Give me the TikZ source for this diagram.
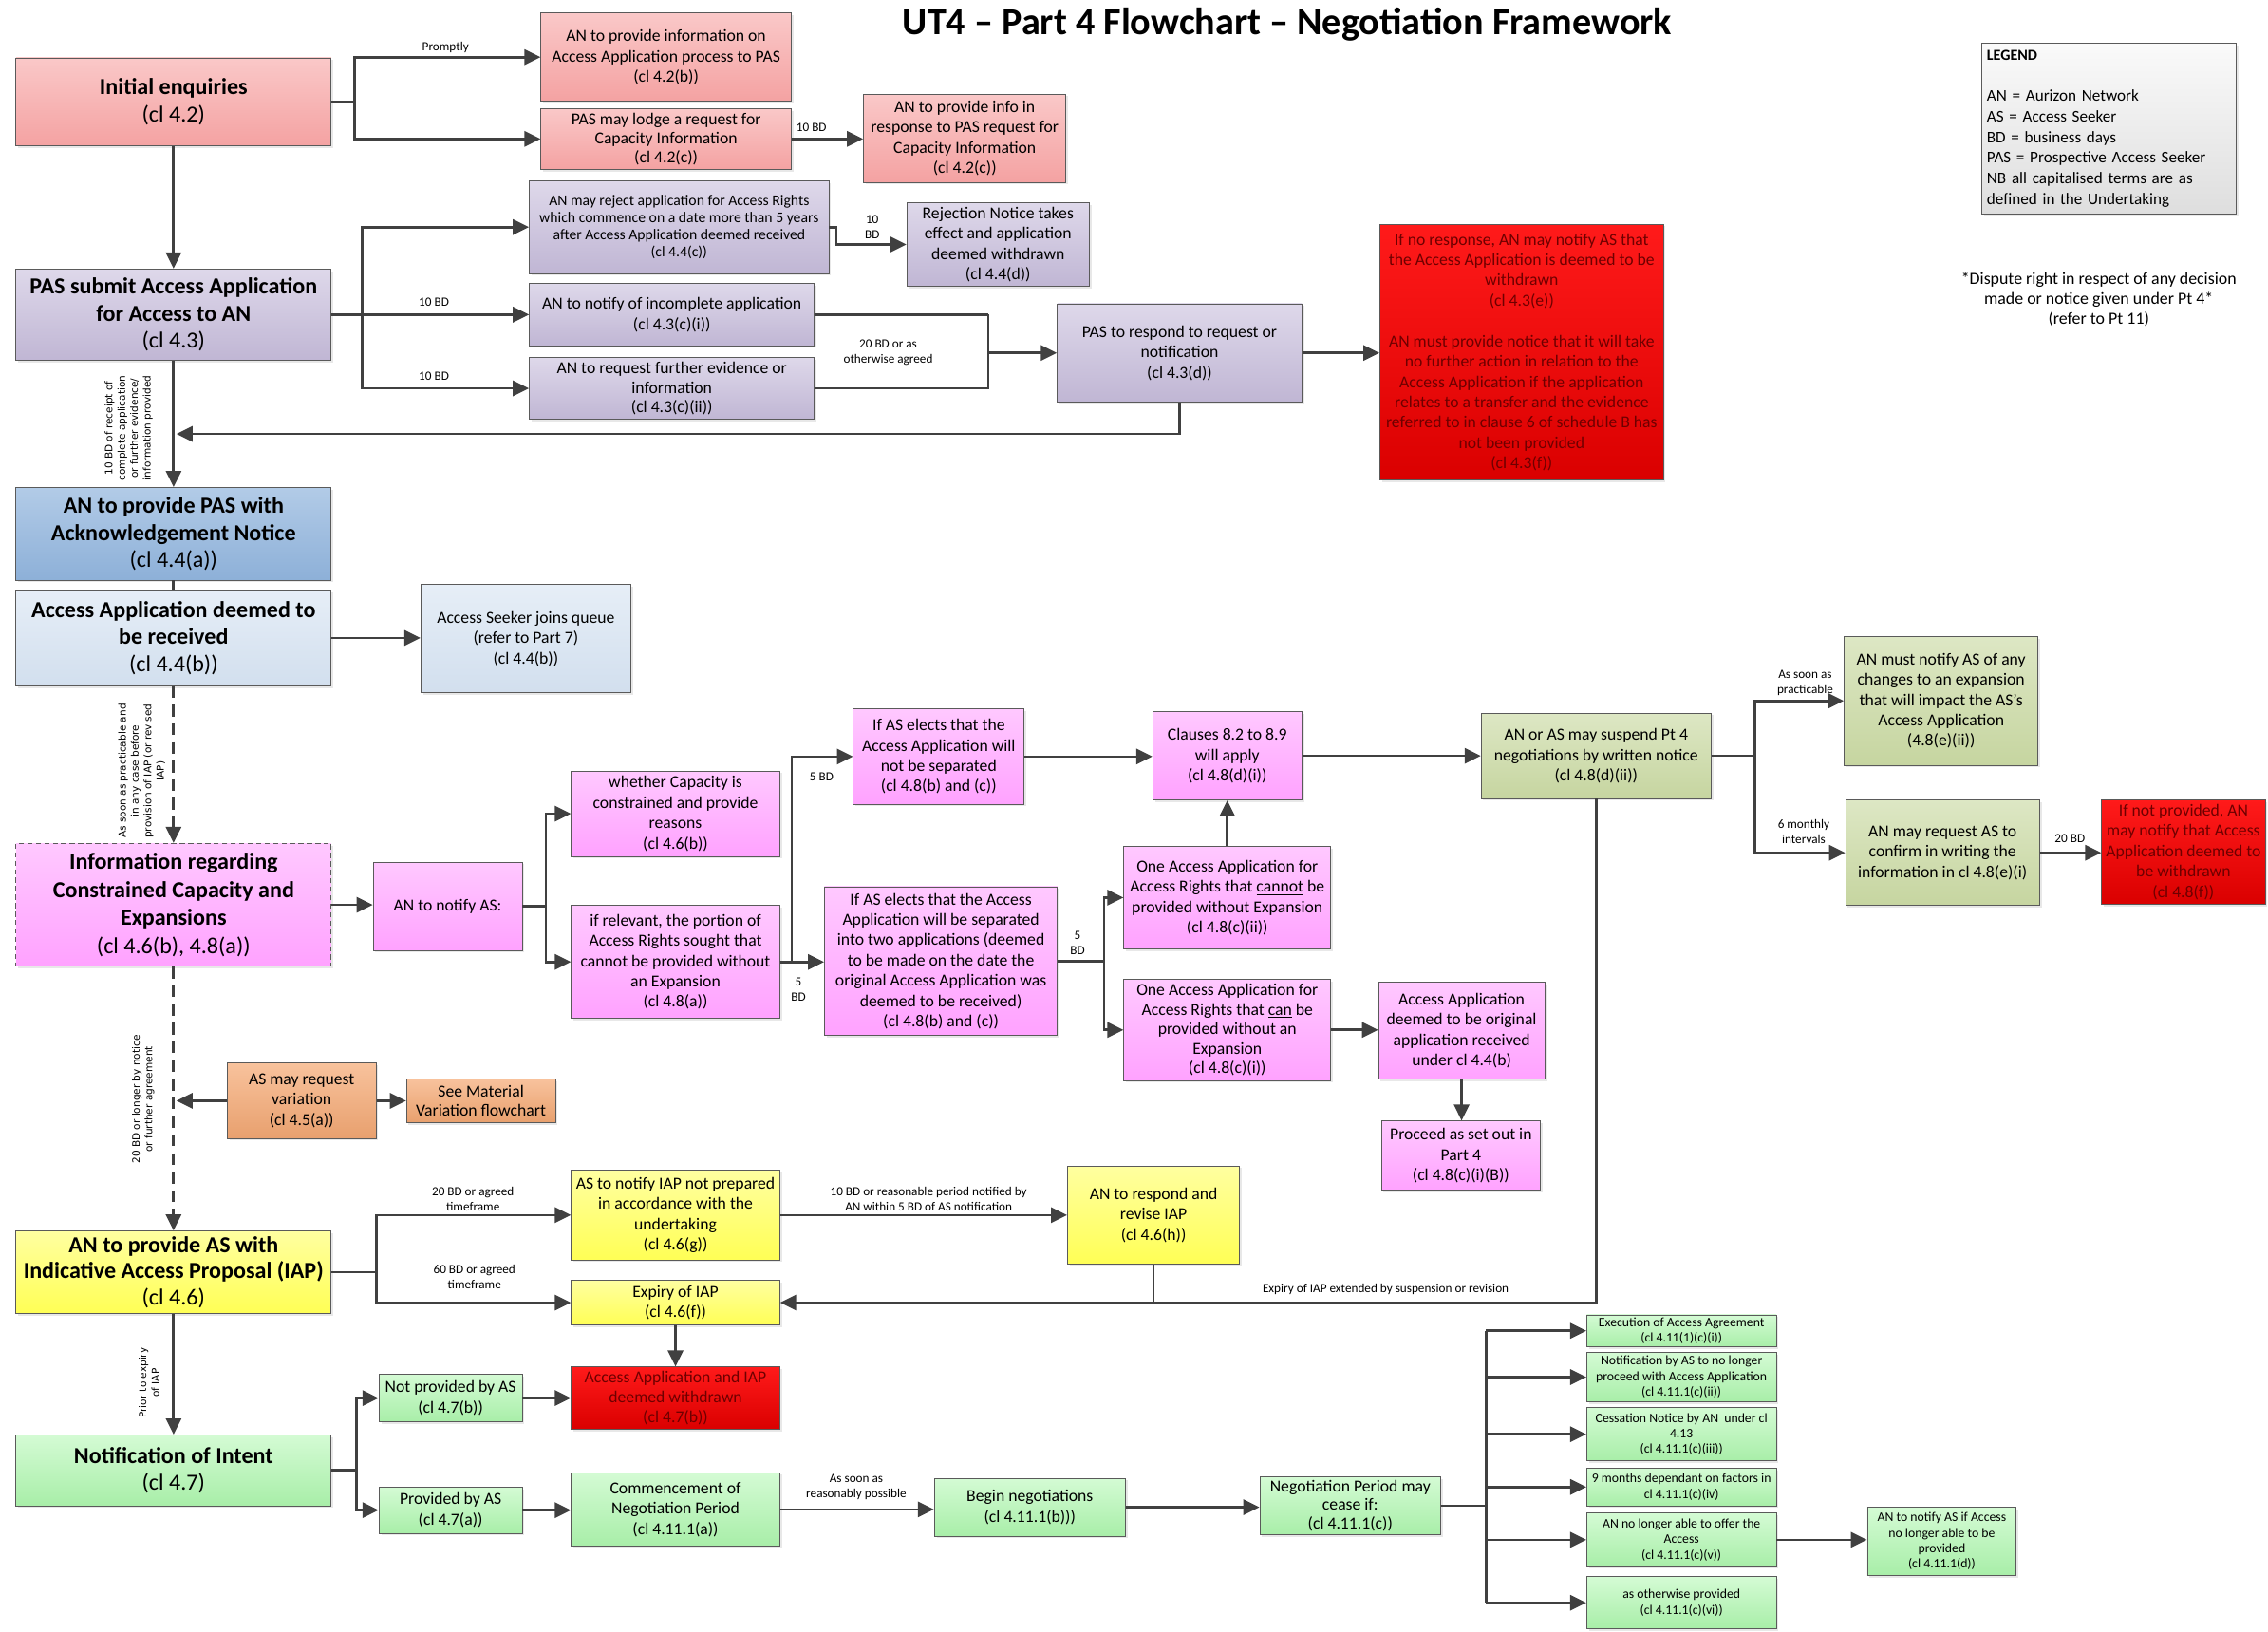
\documentclass[tikz,border=0pt]{standalone}
\usepackage{fontspec}
\setmainfont{Carlito}
\newfontfamily\rotfont{DejaVu Sans}
\usepackage{tikz}
\usetikzlibrary{arrows.meta}
\usetikzlibrary{calc}
\usetikzlibrary{shadows}

\definecolor{boxline}{HTML}{5A5A5A}
\definecolor{arrowgray}{HTML}{404040}
\definecolor{pinkT}{HTML}{FAC8C8}
\definecolor{pinkB}{HTML}{F4A2A2}
\definecolor{lavT}{HTML}{DED8EA}
\definecolor{lavB}{HTML}{C0B6D4}
\definecolor{blueT}{HTML}{B2CBE7}
\definecolor{blueB}{HTML}{8DB0D8}
\definecolor{lblueT}{HTML}{E6EEF7}
\definecolor{lblueB}{HTML}{D2DFEE}
\definecolor{magT}{HTML}{FFC8FF}
\definecolor{magB}{HTML}{FFA2FF}
\definecolor{oliveT}{HTML}{DDE7C4}
\definecolor{oliveB}{HTML}{C6D5A0}
\definecolor{orangeT}{HTML}{F8C29C}
\definecolor{orangeB}{HTML}{E8A06E}
\definecolor{yelT}{HTML}{FFFFA0}
\definecolor{yelB}{HTML}{FFFF55}
\definecolor{greenT}{HTML}{D4FBD4}
\definecolor{greenB}{HTML}{A8EEA8}
\definecolor{redT}{HTML}{FF1A1A}
\definecolor{redB}{HTML}{DA0000}
\definecolor{redtxt}{HTML}{6E0000}
\definecolor{legT}{HTML}{FAFAFA}
\definecolor{legB}{HTML}{DEDEDE}

\newcommand{\fsz}[2]{\fontsize{#1}{#2}\selectfont}

\begin{document}
\begin{tikzpicture}[
  x=0.3mm, y=-0.3mm,
  > = {Triangle[length=9.5pt, width=9pt]},
  flowbox/.style = {draw=boxline, line width=0.5pt, align=center, inner sep=1pt, font=\fsz{9.9}{12},
    drop shadow={shadow xshift=1.3pt, shadow yshift=-1.3pt, fill=black!18, draw=none}},
  sz/.style 2 args = {minimum width=#1*0.8536pt, minimum height=#2*0.8536pt},
  big/.style = {font=\bfseries\fsz{13.5}{16}},
  tinybox/.style = {font=\fsz{7.7}{9.2}, inner sep=0.5pt},
  pinkb/.style = {top color=pinkT, bottom color=pinkB},
  lavb/.style = {top color=lavT, bottom color=lavB},
  blueb/.style = {top color=blueT, bottom color=blueB},
  lblueb/.style = {top color=lblueT, bottom color=lblueB},
  magb/.style = {top color=magT, bottom color=magB},
  oliveb/.style = {top color=oliveT, bottom color=oliveB},
  orangeb/.style = {top color=orangeT, bottom color=orangeB},
  yellowb/.style = {top color=yelT, bottom color=yelB},
  greenb/.style = {top color=greenT, bottom color=greenB},
  redb/.style = {top color=redT, bottom color=redB, text=redtxt},
  legendb/.style = {top color=legT, bottom color=legB},
  arr/.style = {->, draw=arrowgray, line width=1.5pt},
  conn/.style = {draw=arrowgray, line width=1.5pt},
  dashy/.style = {dash pattern=on 7pt off 4pt},
  lbl/.style = {font=\fsz{7.4}{9}, align=center, inner sep=0pt},
  vlbl/.style = {font=\rotfont\fsz{5.9}{7.5}, align=center, inner sep=0pt, rotate=90}
  ]
  \useasboundingbox (0,0) rectangle (1568,1128);

  % title, legend
  \node[font=\bfseries\fsz{22.5}{26}] (title) at (890,17) {UT4 – Part 4 Flowchart – Negotiation Framework};
  \node[flowbox, legendb, sz={176}{118}, align=left, text width=144pt, inner sep=3pt, font=\fsz{9.6}{12.2}] (legend) at (1458,89)
    {{\bfseries\fsz{9}{12}LEGEND}\\[12pt]AN = Aurizon Network\\AS = Access Seeker\\BD = business days\\PAS = Prospective Access Seeker\\NB all capitalised terms are as\\defined in the Undertaking};
  \node[font=\fsz{10}{12}, align=center] (dispute) at (1451,207) {*Dispute right in respect of any decision\\made or notice given under Pt 4*\\(refer to Pt 11)};

  % enquiries
  \node[flowbox, pinkb, big, sz={218}{61}] (init) at (120,70.5) {Initial enquiries\\\mdseries (cl 4.2)};
  \node[flowbox, pinkb, sz={173}{61}] (info) at (460.5,39.5) {AN to provide information on\\Access Application process to PAS\\(cl 4.2(b))};
  \node[flowbox, pinkb, sz={173}{42}, font=\fsz{9.9}{11.3}] (lodge) at (460.5,96) {PAS may lodge a request for\\Capacity Information\\(cl 4.2(c))};
  \node[flowbox, pinkb, sz={140}{61}] (resp) at (667,95.5) {AN to provide info in\\response to PAS request for\\Capacity Information\\(cl 4.2(c))};

  % access application
  \node[flowbox, lavb, big, sz={218}{63}] (pas) at (120,217.5) {PAS submit Access Application\\for Access to AN\\\mdseries (cl 4.3)};
  \node[flowbox, lavb, sz={207}{64}, font=\fsz{8.8}{10.2}] (reject) at (469.5,157) {AN may reject application for Access Rights\\which commence on a date more than 5 years\\after Access Application deemed received\\(cl 4.4(c))};
  \node[flowbox, lavb, sz={126}{58}] (rejnote) at (690,169) {Rejection Notice takes\\effect and application\\deemed withdrawn\\(cl 4.4(d))};
  \node[flowbox, lavb, sz={197}{43}] (incomplete) at (464.5,217.5) {AN to notify of incomplete application\\(cl 4.3(c)(i))};
  \node[flowbox, lavb, sz={197}{43}, font=\fsz{9.9}{11.5}] (further) at (464.5,268.5) {AN to request further evidence or\\information\\(cl 4.3(c)(ii))};
  \node[flowbox, lavb, sz={169}{68}] (respond) at (815.5,244) {PAS to respond to request or\\notification\\(cl 4.3(d))};
  \node[flowbox, redb, sz={196}{177}, font=\fsz{9.9}{12}] (red1) at (1052,243.5) {If no response, AN may notify AS that\\the Access Application is deemed to be\\withdrawn\\(cl 4.3(e))\\[12pt]AN must provide notice that it will take\\no further action in relation to the\\Access Application if the application\\relates to a transfer and the evidence\\referred to in clause 6 of schedule B has\\not been provided\\(cl 4.3(f))};
  \node[flowbox, blueb, big, sz={218}{64}] (ack) at (120,369) {AN to provide PAS with\\Acknowledgement Notice\\\mdseries (cl 4.4(a))};
  \node[flowbox, lblueb, big, sz={218}{66}] (deemed) at (120,441) {Access Application deemed to\\be received\\\mdseries (cl 4.4(b))};
  \node[flowbox, lblueb, sz={145}{75}] (queue) at (363.5,441.5) {Access Seeker joins queue\\(refer to Part 7)\\(cl 4.4(b))};

  % constrained capacity
  \node[flowbox, magb, densely dashed, sz={218}{85}, font=\bfseries\fsz{13.5}{16.5}] (infocap) at (120,625.5) {Information regarding\\Constrained Capacity and\\Expansions\\\mdseries (cl 4.6(b), 4.8(a))};
  \node[flowbox, magb, sz={103}{61}] (notify) at (309.5,626.5) {AN to notify AS:};
  \node[flowbox, magb, sz={144}{59}] (whether) at (467,562.5) {whether Capacity is\\constrained and provide\\reasons\\(cl 4.6(b))};
  \node[flowbox, magb, sz={144}{78}] (relevant) at (467,665) {if relevant, the portion of\\Access Rights sought that\\cannot be provided without\\an Expansion\\(cl 4.8(a))};
  \node[flowbox, magb, sz={118}{66}] (notsep) at (649,523) {If AS elects that the\\Access Application will\\not be separated\\(cl 4.8(b) and (c))};
  \node[flowbox, magb, sz={161}{103}] (sep) at (650.5,664.5) {If AS elects that the Access\\Application will be separated\\into two applications (deemed\\to be made on the date the\\original Access Application was\\deemed to be received)\\(cl 4.8(b) and (c))};
  \node[flowbox, magb, sz={103}{61}] (clauses) at (848.5,522.5) {Clauses 8.2 to 8.9\\will apply\\(cl 4.8(d)(i))};
  \node[flowbox, magb, sz={143}{71}] (cannot) at (848.5,620.5) {One Access Application for\\Access Rights that \underline{cannot} be\\provided without Expansion\\(cl 4.8(c)(ii))};
  \node[flowbox, magb, sz={143}{70}, font=\fsz{9.9}{11.5}] (can) at (848.5,712) {One Access Application for\\Access Rights that \underline{can} be\\provided without an\\Expansion\\(cl 4.8(c)(i))};
  \node[flowbox, magb, sz={115}{67}] (original) at (1010.5,712.5) {Access Application\\deemed to be original\\application received\\under cl 4.4(b)};
  \node[flowbox, magb, sz={110}{48}] (proceed) at (1010,799) {Proceed as set out in\\Part 4\\(cl 4.8(c)(i)(B))};

  % suspension
  \node[flowbox, oliveb, sz={159}{59}] (suspend) at (1103.5,522.5) {AN or AS may suspend Pt 4\\negotiations by written notice\\(cl 4.8(d)(ii))};
  \node[flowbox, oliveb, sz={134}{89}] (changes) at (1342,484.5) {AN must notify AS of any\\changes to an expansion\\that will impact the AS’s\\Access Application\\(4.8(e)(ii))};
  \node[flowbox, oliveb, sz={134}{73}] (confirm) at (1343,589.5) {AN may request AS to\\confirm in writing the\\information in cl 4.8(e)(i)};
  \node[flowbox, redb, sz={113}{72}] (red2) at (1509.5,589) {If not provided, AN\\may notify that Access\\Application deemed to\\be withdrawn\\(cl 4.8(f))};

  % variation, IAP
  \node[flowbox, orangeb, sz={103}{52}] (variation) at (208.5,761) {AS may request\\variation\\(cl 4.5(a))};
  \node[flowbox, orangeb, sz={103}{30}, font=\fsz{9.9}{11}] (material) at (332.5,761) {See Material\\Variation flowchart};
  \node[flowbox, yellowb, sz={218}{57}, font=\bfseries\fsz{13.5}{15.5}] (iap) at (120,879.5) {AN to provide AS with\\Indicative Access Proposal (IAP)\\\mdseries (cl 4.6)};
  \node[flowbox, yellowb, sz={144}{62}] (notprep) at (467,840) {AS to notify IAP not prepared\\in accordance with the\\undertaking\\(cl 4.6(g))};
  \node[flowbox, yellowb, sz={119}{68}] (revise) at (797.5,840) {AN to respond and\\revise IAP\\(cl 4.6(h))};
  \node[flowbox, yellowb, sz={144}{31}] (expiry) at (467,900.5) {Expiry of IAP\\(cl 4.6(f))};
  \node[flowbox, redb, sz={144}{43}, font=\fsz{9.9}{11.5}] (withdrawn) at (467,966.5) {Access Application and IAP\\deemed withdrawn\\(cl 4.7(b))};

  % negotiation
  \node[flowbox, greenb, big, sz={218}{49}] (intent) at (120,1016.5) {Notification of Intent\\\mdseries (cl 4.7)};
  \node[flowbox, greenb, sz={99}{33}] (notprov) at (311.5,966.5) {Not provided by AS\\(cl 4.7(b))};
  \node[flowbox, greenb, sz={99}{32}] (prov) at (311.5,1044) {Provided by AS\\(cl 4.7(a))};
  \node[flowbox, greenb, sz={144}{51}] (commence) at (467,1043.5) {Commencement of\\Negotiation Period\\(cl 4.11.1(a))};
  \node[flowbox, greenb, sz={132}{40}] (begin) at (712,1042) {Begin negotiations\\(cl 4.11.1(b)))};
  \node[flowbox, greenb, sz={125}{40}, font=\fsz{9.9}{11}] (cease) at (933.5,1041) {Negotiation Period may\\cease if:\\(cl 4.11.1(c))};
  \node[flowbox, greenb, tinybox, sz={131}{22}] (exec) at (1162.5,920) {Execution of Access Agreement\\(cl 4.11(1)(c)(i))};
  \node[flowbox, greenb, tinybox, sz={131}{34}] (notifas) at (1162.5,952) {Notification by AS to no longer\\proceed with Access Application\\(cl 4.11.1(c)(ii))};
  \node[flowbox, greenb, tinybox, sz={131}{37}] (cessation) at (1162.5,991.5) {Cessation Notice by AN\ \ under cl\\4.13\\(cl 4.11.1(c)(iii))};
  \node[flowbox, greenb, tinybox, sz={131}{26}] (nine) at (1162.5,1028) {9 months dependant on factors in\\cl 4.11.1(c)(iv)};
  \node[flowbox, greenb, tinybox, sz={131}{37}] (unable) at (1162.5,1064.5) {AN no longer able to offer the\\Access\\(cl 4.11.1(c)(v))};
  \node[flowbox, greenb, tinybox, sz={131}{36}] (otherwise) at (1162.5,1108) {as otherwise provided\\(cl 4.11.1(c)(vi))};
  \node[flowbox, greenb, tinybox, sz={103}{47}] (notifyaccess) at (1342.5,1065.5) {AN to notify AS if Access\\no longer able to be\\provided\\(cl 4.11.1(d))};

  % free ends
  \coordinate (backIn) at (122,300);
  \coordinate (varIn) at (122,761);

  % connectors
  \draw[arr] (init.east) -- ++(16,0) coordinate (jInit) |- (info.west);
  \draw[arr] (jInit) |- (lodge.west);
  \draw[arr] (lodge.east) -- (lodge.east -| resp.west);
  \draw[arr] (init) -- (pas);
  \draw[arr] (pas.east) -- ++(21,0) coordinate (jPas) |- (reject.west);
  \draw[arr] (pas.east) -- (incomplete.west);
  \draw[arr] (jPas) |- (further.west);
  \draw[arr] (reject.east) -- ++(5,0) |- (rejnote.west);
  \draw[conn] (incomplete.east) -- ++(120,0) coordinate (jResp);
  \draw[conn] (further.east) -| (jResp);
  \draw[arr] (jResp |- respond.west) -- (respond.west);
  \draw[arr] (respond.east) -- (respond.east -| red1.west);
  \draw[arr] (respond.south) |- (backIn);
  \draw[arr] (pas) -- (ack);
  \draw[conn] (ack) -- (deemed);
  \draw[arr] (deemed.east) -- (deemed.east -| queue.west);
  \draw[arr, dashy] (deemed) -- (infocap);
  \draw[arr] (infocap.east) -- (infocap.east -| notify.west);
  \draw[arr] (notify.east) -- ++(16,0) coordinate (jNotify) |- (whether.west);
  \draw[arr] (jNotify) |- (relevant.west);
  \draw[arr] (relevant.east) -- (relevant.east -| sep.west);
  \draw[arr] (relevant.east) -- ++(8,0) |- (notsep.west);
  \draw[arr] (notsep.east) -- (notsep.east -| clauses.west);
  \draw[arr] (sep.east) -- ++(32,0) coordinate (jSep) |- (cannot.west);
  \draw[arr] (jSep) |- (can.west);
  \draw[arr] (cannot) -- (clauses);
  \draw[arr] (clauses.east) -- (clauses.east -| suspend.west);
  \draw[arr] (can.east) -- (can.east -| original.west);
  \draw[arr] (original.south) -- (original.south |- proceed.north);
  \draw[arr] (suspend.east) -- ++(30,0) coordinate (jSusp) |- (changes.west);
  \draw[arr] (jSusp) |- (confirm.west);
  \draw[arr] (confirm.east) -- (confirm.east -| red2.west);
  \draw[arr] (suspend.south) |- (expiry.east);
  \draw[conn] (revise.south) -- (revise.south |- expiry.east);
  \draw[arr, dashy] (infocap) -- (iap);
  \draw[arr] (variation.west) -- (varIn);
  \draw[arr] (variation.east) -- (variation.east -| material.west);
  \draw[arr] (iap.east) -- ++(31,0) coordinate (jIap) |- (notprep.west);
  \draw[arr] (jIap) |- (expiry.west);
  \draw[arr] (notprep.east) -- (notprep.east -| revise.west);
  \draw[arr] (expiry) -- (withdrawn);
  \draw[arr] (iap) -- (intent);
  \draw[arr] (intent.east) -- ++(17,0) coordinate (jInt) |- (notprov.west);
  \draw[arr] (jInt) |- (prov.west);
  \draw[arr] (notprov.east) -- (notprov.east -| withdrawn.west);
  \draw[arr] (prov.east) -- (prov.east -| commence.west);
  \draw[arr] (commence.east) -- (commence.east -| begin.west);
  \draw[arr] (begin.east) -- (begin.east -| cease.west);
  \draw[conn] (cease.east) -- ++(31,0) coordinate (jCease);
  \draw[conn] (jCease |- exec.west) -- (jCease |- otherwise.west);
  \foreach \t in {exec,notifas,cessation,nine,unable,otherwise}
    \draw[arr] (jCease |- \t.west) -- (\t.west);
  \draw[arr] (unable.east) -- (unable.east -| notifyaccess.west);

  % connector labels
  \node[lbl] (lPromptly) at (308,33) {Promptly};
  \node[lbl] (lCap) at (561,88) {10 BD};
  \node[lbl] (lRej) at (603,157) {10\\BD};
  \node[lbl] (lInc) at (300,209) {10 BD};
  \node[lbl] (lFur) at (300,260) {10 BD};
  \node[lbl] (lResp) at (614,244) {20 BD or as\\otherwise agreed};
  \node[vlbl] (lAck) at (89,296) {10 BD of receipt of\\complete application\\or further evidence/\\information provided};
  \node[vlbl] (lInfo) at (98,533) {As soon as practicable and\\in any case before\\provision of IAP (or revised\\IAP)};
  \node[vlbl] (lVar) at (99,760) {20 BD or longer by notice\\or further agreement};
  \node[vlbl] (lPrior) at (103,956) {Prior to expiry\\of IAP};
  \node[lbl] (l5a) at (568,537) {5 BD};
  \node[lbl] (l5b) at (552,684) {5\\BD};
  \node[lbl] (l5c) at (745,652) {5\\BD};
  \node[lbl] (lSoon) at (1248,472) {As soon as\\practicable};
  \node[lbl] (lSix) at (1247,575) {6 monthly\\intervals};
  \node[lbl] (l20) at (1431,580) {20 BD};
  \node[lbl] (lExt) at (958,891) {Expiry of IAP extended by suspension or revision};
  \node[lbl] (l20iap) at (327,829) {20 BD or agreed\\timeframe};
  \node[lbl] (l60iap) at (328,883) {60 BD or agreed\\timeframe};
  \node[lbl] (lRev) at (642,829) {10 BD or reasonable period notified by\\AN within 5 BD of AS notification};
  \node[lbl] (lReas) at (592,1028) {As soon as\\reasonably possible};

\end{tikzpicture}
\end{document}
